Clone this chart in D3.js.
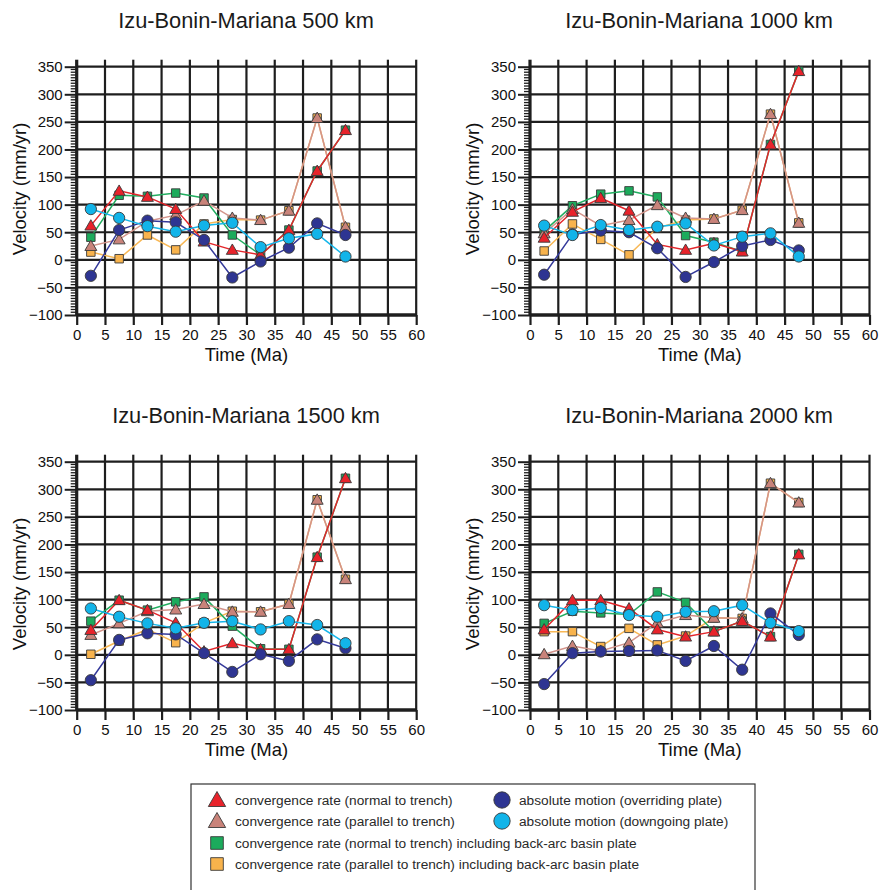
<!DOCTYPE html>
<html><head><meta charset="utf-8">
<script src="https://cdn.jsdelivr.net/npm/d3@7"></script>
<style>body{margin:0;background:#fff} svg{display:block;font-family:"Liberation Sans",Arial,Helvetica,sans-serif}</style>
</head><body><svg id="c" width="879" height="890"></svg>
<script>
const times = [2.5, 7.5, 12.5, 17.5, 22.5, 27.5, 32.5, 37.5, 42.5, 47.5];
const xTicks = [0, 5, 10, 15, 20, 25, 30, 35, 40, 45, 50, 55, 60];
const yTicks = [-100, -50, 0, 50, 100, 150, 200, 250, 300, 350];
const panelTitles = ["Izu-Bonin-Mariana 500 km", "Izu-Bonin-Mariana 1000 km", "Izu-Bonin-Mariana 1500 km", "Izu-Bonin-Mariana 2000 km"];
const seriesLabels = [
  "convergence rate (normal to trench)",
  "convergence rate (parallel to trench)",
  "convergence rate (normal to trench) including back-arc basin plate",
  "convergence rate (parallel to trench) including back-arc basin plate",
  "absolute motion (overriding plate)",
  "absolute motion (downgoing plate)"
];
// 500 km
const normal500      = [62, 125, 114, 92, 33, 18, 9, 54, 161, 235];
const parallel500    = [25, 37, 70, 81, 107, 76, 72, 89, 257, 59];
const normalBA500    = [41, 117, 115, 121, 112, 45, 9, 54, 161, 235];
const parallelBA500  = [14, 2, 45, 18, 65, 73, 72, 89, 257, 59];
const overriding500  = [-29, 54, 71, 68, 36, -32, -3, 22, 66, 45];
const downgoing500   = [92, 76, 61, 51, 62, 67, 23, 39, 47, 6];
// 1000 km
const normal1000     = [40, 87, 112, 89, 28, 18, 30, 15, 209, 342];
const parallel1000   = [48, 92, 62, 72, 99, 76, 74, 90, 264, 67];
const normalBA1000   = [52, 98, 119, 125, 114, 44, 32, 15, 209, 342];
const parallelBA1000 = [16, 65, 37, 9, 58, 72, 74, 90, 264, 67];
const overriding1000 = [-27, 46, 53, 50, 21, -31, -4, 25, 36, 17];
const downgoing1000  = [62, 45, 63, 54, 60, 66, 26, 42, 48, 6];
// 1500 km
const normal1500     = [45, 99, 81, 58, 6, 21, 10, 10, 177, 320];
const parallel1500   = [36, 57, 79, 82, 92, 78, 78, 92, 281, 137];
const normalBA1500   = [61, 99, 81, 96, 105, 52, 11, 10, 177, 320];
const parallelBA1500 = [1, 25, 46, 22, 58, 79, 78, 92, 281, 137];
const overriding1500 = [-46, 27, 39, 37, 3, -31, 1, -11, 28, 12];
const downgoing1500  = [84, 69, 57, 48, 58, 61, 46, 61, 54, 21];
// 2000 km
const normal2000     = [46, 99, 99, 84, 46, 33, 42, 61, 33, 182];
const parallel2000   = [1, 16, 7, 22, 58, 72, 67, 66, 311, 276];
const normalBA2000   = [57, 79, 76, 73, 114, 95, 42, 61, 33, 182];
const parallelBA2000 = [42, 42, 15, 48, 18, 34, 67, 66, 311, 276];
const overriding2000 = [-53, 3, 6, 7, 8, -11, 16, -27, 75, 36];
const downgoing2000  = [90, 81, 85, 72, 69, 78, 79, 90, 58, 43];

const panelData = [
  [normal500, parallel500, normalBA500, parallelBA500, overriding500, downgoing500],
  [normal1000, parallel1000, normalBA1000, parallelBA1000, overriding1000, downgoing1000],
  [normal1500, parallel1500, normalBA1500, parallelBA1500, overriding1500, downgoing1500],
  [normal2000, parallel2000, normalBA2000, parallelBA2000, overriding2000, downgoing2000]
];

// styles (index into series order above)
const styles = [
  {fill: "#e8232b", line: "#e3262b", shape: "tri"},
  {fill: "#c9837a", line: "#d3948b", shape: "tri"},
  {fill: "#1cab5c", line: "#22ad60", shape: "sq"},
  {fill: "#f8b34c", line: "#f8b856", shape: "sq"},
  {fill: "#2e3592", line: "#34399a", shape: "circ"},
  {fill: "#12b4e9", line: "#16b6ea", shape: "circ"}
];
const drawOrder = [3, 2, 1, 0, 4, 5];

const svg = d3.select("#c");
const layout = [
  {px: 76.7, py: 66.7, tx: 246, ty: 27.5},
  {px: 530, py: 66.7, tx: 699, ty: 27.5},
  {px: 76.7, py: 461.7, tx: 246, ty: 422.5},
  {px: 530, py: 461.7, tx: 699, ty: 422.5}
];
const W = 339.5, H = 248.3;
const gridCol = "#1e1e1e";

function symbolPath(shape, size) {
  const t = shape === "tri" ? d3.symbolTriangle : shape === "sq" ? d3.symbolSquare : d3.symbolCircle;
  return d3.symbol().type(t).size(size)();
}

layout.forEach((L, pi) => {
  const x = d3.scaleLinear().domain([0, 60]).range([L.px, L.px + W]);
  const y = d3.scaleLinear().domain([-100, 350]).range([L.py + H, L.py]);
  const g = svg.append("g");

  g.append("text").attr("x", L.tx).attr("y", L.ty).attr("text-anchor", "middle")
    .attr("font-size", 21.8).attr("fill", "#1a1a1a").text(panelTitles[pi]);

  // minor y ticks
  g.append("g").selectAll("line").data(d3.range(-100, 351, 5).filter(v => v % 50 !== 0)).join("line")
    .attr("x1", x(0) - 6).attr("x2", x(0)).attr("y1", d => y(d)).attr("y2", d => y(d))
    .attr("stroke", gridCol).attr("stroke-width", 1.3);

  // horizontal grid
  g.append("g").selectAll("line").data(yTicks).join("line")
    .attr("x1", x(0)).attr("x2", x(60)).attr("y1", d => y(d)).attr("y2", d => y(d))
    .attr("stroke", gridCol).attr("stroke-width", d => d === -100 ? 3.5 : 2.2);
  // vertical grid
  g.append("g").selectAll("line").data(xTicks).join("line")
    .attr("x1", d => x(d)).attr("x2", d => x(d)).attr("y1", y(350) - 7).attr("y2", y(-100))
    .attr("stroke", gridCol).attr("stroke-width", d => d === 0 ? 3.2 : 2.2);

  // axes (ticks + labels)
  const ya = d3.axisLeft(y).tickValues(yTicks).tickSize(12).tickPadding(2);
  const yg = g.append("g").attr("transform", `translate(${x(0)},0)`).call(ya);
  yg.select(".domain").remove();
  yg.selectAll(".tick line").attr("stroke", gridCol).attr("stroke-width", 2);
  yg.selectAll(".tick text").attr("font-size", 15).attr("fill", "#111")
    .attr("font-family", '"Liberation Sans",Arial,sans-serif');

  const xa = d3.axisBottom(x).tickValues(xTicks).tickSize(10).tickPadding(4);
  const xg = g.append("g").attr("transform", `translate(0,${y(-100)})`).call(xa);
  xg.select(".domain").remove();
  xg.selectAll(".tick line").attr("stroke", gridCol).attr("stroke-width", 2.2);
  xg.selectAll(".tick text").attr("font-size", 15).attr("fill", "#111")
    .attr("font-family", '"Liberation Sans",Arial,sans-serif');

  g.append("text").attr("x", x(30)).attr("y", y(-100) + 46).attr("text-anchor", "middle")
    .attr("font-size", 18.5).attr("fill", "#111").text("Time (Ma)");
  g.append("text").attr("transform", `translate(${L.px - 51},${(y(350) + y(-100)) / 2 - 2}) rotate(-90)`)
    .attr("text-anchor", "middle").attr("font-size", 18.5).attr("fill", "#111").text("Velocity (mm/yr)");

  const line = d3.line().x((d, i) => x(times[i])).y(d => y(d));
  drawOrder.forEach(si => {
    const vals = panelData[pi][si];
    const st = styles[si];
    g.append("path").attr("d", line(vals)).attr("fill", "none")
      .attr("stroke", st.line).attr("stroke-width", 1.5);
    const size = st.shape === "tri" ? 62 : st.shape === "sq" ? 72 : 100;
    g.append("g").selectAll("path").data(vals).join("path")
      .attr("d", symbolPath(st.shape, size))
      .attr("transform", (d, i) => `translate(${x(times[i])},${y(d) + (st.shape === "tri" ? 1 : 0)})`)
      .attr("fill", st.fill).attr("stroke", "#3a3a3a").attr("stroke-width", 0.9);
  });
});

// legend
const lg = svg.append("g");
lg.append("rect").attr("x", 191).attr("y", 784).attr("width", 564).attr("height", 120)
  .attr("fill", "#fff").attr("stroke", "#333").attr("stroke-width", 1.2);
const legendPos = [
  {mx: 217, my: 800, tx: 235},
  {mx: 217, my: 821, tx: 235},
  {mx: 217, my: 843, tx: 235},
  {mx: 217, my: 864, tx: 235},
  {mx: 502, my: 800, tx: 519},
  {mx: 502, my: 821, tx: 519}
];
legendPos.forEach((p, i) => {
  const st = styles[i];
  const size = st.shape === "tri" ? 130 : st.shape === "sq" ? 160 : 210;
  lg.append("path").attr("d", symbolPath(st.shape, size))
    .attr("transform", `translate(${p.mx},${p.my + (st.shape === "tri" ? 1.5 : 0)})`)
    .attr("fill", st.fill).attr("stroke", "#3a3a3a").attr("stroke-width", 0.9);
  lg.append("text").attr("x", p.tx).attr("y", p.my + 5).attr("font-size", 13.7)
    .attr("fill", "#2a2a2a").text(seriesLabels[i]);
});
</script></body></html>
